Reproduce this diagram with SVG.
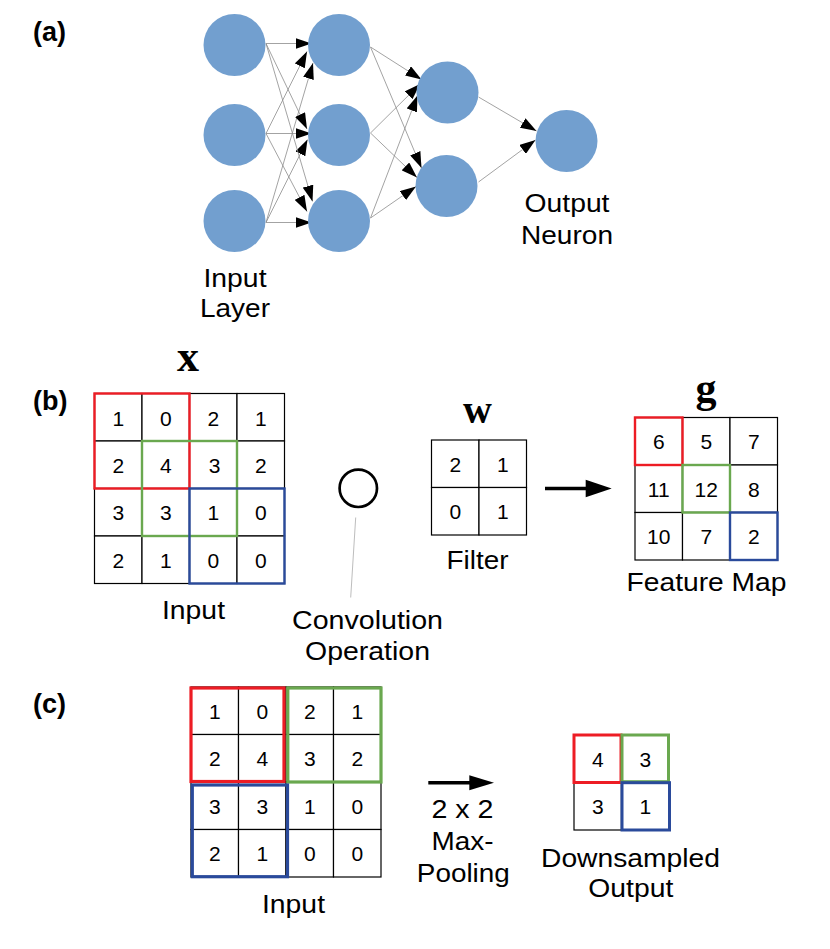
<svg xmlns="http://www.w3.org/2000/svg" width="830" height="949" viewBox="0 0 830 949">
<defs>
<style>
.lbl{font-family:"Liberation Sans",Arial,sans-serif;font-size:25.5px;fill:#000;text-anchor:middle}
.tag{font-family:"Liberation Sans",Arial,sans-serif;font-size:27px;font-weight:bold;fill:#000}
.num{font-family:"Liberation Sans",Arial,sans-serif;font-size:21px;fill:#000;text-anchor:middle}
.var{font-family:"Liberation Serif","Times New Roman",serif;font-weight:bold;fill:#000;text-anchor:middle}
.neuron{fill:#729fcf}
.edge{stroke:#8c8c8c;stroke-width:0.8;fill:none;marker-end:url(#ah)}
.cell{fill:#fff;stroke:#000;stroke-width:1.2}
.red{fill:none;stroke:#ed1c24}
.green{fill:none;stroke:#6aa84f}
.blue{fill:none;stroke:#2a4a9b}
.thick{stroke:#000;stroke-width:3.6;fill:none}
</style>
<marker id="ah" markerUnits="userSpaceOnUse" markerWidth="16" markerHeight="11" refX="16" refY="5.5" orient="auto"><path d="M0,0 L16,5.5 L0,11 z" fill="#000"/></marker>
</defs>
<rect x="0" y="0" width="830" height="949" fill="#fff"/>

<!-- Part (a) -->
<text class="tag" x="33" y="41">(a)</text>
<g id="connectors-a">
<line class="edge" x1="266" y1="43.5" x2="311.5" y2="43.5"/>
<line class="edge" x1="266" y1="133.5" x2="307" y2="51.5"/>
<line class="edge" x1="266" y1="222.5" x2="313" y2="63"/>
<line class="edge" x1="266" y1="43.5" x2="307" y2="129"/>
<line class="edge" x1="266" y1="133.5" x2="311.5" y2="133.5"/>
<line class="edge" x1="266" y1="222.5" x2="307.5" y2="139.5"/>
<line class="edge" x1="266" y1="43.5" x2="312.5" y2="201.5"/>
<line class="edge" x1="266" y1="133.5" x2="307" y2="211.5"/>
<line class="edge" x1="266" y1="222.5" x2="311.5" y2="222.5"/>
<line class="edge" x1="370.5" y1="47" x2="421.5" y2="79.5"/>
<line class="edge" x1="370.5" y1="133" x2="420" y2="84"/>
<line class="edge" x1="370.5" y1="218" x2="417.5" y2="95.5"/>
<line class="edge" x1="370.5" y1="47" x2="421.5" y2="168"/>
<line class="edge" x1="370.5" y1="133" x2="417" y2="177.5"/>
<line class="edge" x1="370.5" y1="218" x2="416" y2="186.5"/>
<line class="edge" x1="478.5" y1="97" x2="536.5" y2="131"/>
<line class="edge" x1="478.5" y1="182" x2="535.5" y2="140"/>
</g>
<g id="input-1"><circle class="neuron" cx="234.5" cy="45" r="31"/></g>
<g id="input-2"><circle class="neuron" cx="234.5" cy="135" r="31"/></g>
<g id="input-3"><circle class="neuron" cx="234.5" cy="221" r="31"/></g>
<g id="hidden1-1"><circle class="neuron" cx="339" cy="45" r="31"/></g>
<g id="hidden1-2"><circle class="neuron" cx="339" cy="135" r="31"/></g>
<g id="hidden1-3"><circle class="neuron" cx="339" cy="221" r="31"/></g>
<g id="hidden2-1"><circle class="neuron" cx="447.5" cy="92.5" r="31"/></g>
<g id="hidden2-2"><circle class="neuron" cx="446.5" cy="186" r="31"/></g>
<g id="output-neuron"><circle class="neuron" cx="566.5" cy="141" r="31"/></g>
<g id="label-input-layer">
<text class="lbl" x="235" y="286.5" textLength="63" lengthAdjust="spacingAndGlyphs">Input</text>
<text class="lbl" x="235" y="316.5" textLength="70" lengthAdjust="spacingAndGlyphs">Layer</text>
</g>
<g id="label-output-neuron">
<text class="lbl" x="567" y="212" textLength="85" lengthAdjust="spacingAndGlyphs">Output</text>
<text class="lbl" x="567" y="243.5" textLength="92" lengthAdjust="spacingAndGlyphs">Neuron</text>
</g>

<!-- Part (b) -->
<text class="tag" x="33" y="410">(b)</text>
<g id="b-input">
<text class="var" x="188" y="370.5" font-size="44">x</text>
<rect class="cell" x="94.5" y="393.5" width="47.5" height="47.5"/>
<rect class="cell" x="142" y="393.5" width="47.5" height="47.5"/>
<rect class="cell" x="189.5" y="393.5" width="47.5" height="47.5"/>
<rect class="cell" x="237" y="393.5" width="47.5" height="47.5"/>
<rect class="cell" x="94.5" y="441" width="47.5" height="47.5"/>
<rect class="cell" x="142" y="441" width="47.5" height="47.5"/>
<rect class="cell" x="189.5" y="441" width="47.5" height="47.5"/>
<rect class="cell" x="237" y="441" width="47.5" height="47.5"/>
<rect class="cell" x="94.5" y="488.5" width="47.5" height="47.5"/>
<rect class="cell" x="142" y="488.5" width="47.5" height="47.5"/>
<rect class="cell" x="189.5" y="488.5" width="47.5" height="47.5"/>
<rect class="cell" x="237" y="488.5" width="47.5" height="47.5"/>
<rect class="cell" x="94.5" y="536" width="47.5" height="47.5"/>
<rect class="cell" x="142" y="536" width="47.5" height="47.5"/>
<rect class="cell" x="189.5" y="536" width="47.5" height="47.5"/>
<rect class="cell" x="237" y="536" width="47.5" height="47.5"/>
<text class="num" x="118.25" y="425.5">1</text>
<text class="num" x="165.75" y="425.5">0</text>
<text class="num" x="213.25" y="425.5">2</text>
<text class="num" x="260.75" y="425.5">1</text>
<text class="num" x="118.25" y="473">2</text>
<text class="num" x="165.75" y="473">4</text>
<text class="num" x="214.5" y="473">3</text>
<text class="num" x="260.75" y="473">2</text>
<text class="num" x="118.25" y="520">3</text>
<text class="num" x="165.75" y="520">3</text>
<text class="num" x="213.25" y="520">1</text>
<text class="num" x="260.75" y="520">0</text>
<text class="num" x="118.25" y="567.5">2</text>
<text class="num" x="165.75" y="567.5">1</text>
<text class="num" x="213.25" y="567.5">0</text>
<text class="num" x="260.75" y="567.5">0</text>
<rect class="red" stroke-width="2.4" x="94.5" y="393.5" width="95" height="95"/>
<rect class="green" stroke-width="2.4" x="142" y="441" width="95" height="95"/>
<rect class="blue" stroke-width="2.4" x="189.5" y="488.5" width="95" height="95"/>
<text class="lbl" x="193.5" y="618.5" textLength="63" lengthAdjust="spacingAndGlyphs">Input</text>
</g>
<g id="b-convolution-op">
<line x1="355.7" y1="517.5" x2="350.7" y2="597.5" stroke="#bdbdbd" stroke-width="1"/>
<circle cx="358.3" cy="488.3" r="18.7" fill="none" stroke="#000" stroke-width="2.7"/>
<text class="lbl" x="367.5" y="629" textLength="151" lengthAdjust="spacingAndGlyphs">Convolution</text>
<text class="lbl" x="367.5" y="660" textLength="125" lengthAdjust="spacingAndGlyphs">Operation</text>
</g>
<g id="b-filter">
<text class="var" x="477.5" y="423" font-size="40">w</text>
<rect class="cell" x="431.5" y="440" width="47.5" height="47.5"/>
<rect class="cell" x="479" y="440" width="47.5" height="47.5"/>
<rect class="cell" x="431.5" y="487.5" width="47.5" height="47.5"/>
<rect class="cell" x="479" y="487.5" width="47.5" height="47.5"/>
<text class="num" x="455.25" y="471.75">2</text>
<text class="num" x="502.75" y="471.75">1</text>
<text class="num" x="455.25" y="519.25">0</text>
<text class="num" x="502.75" y="519.25">1</text>
<text class="lbl" x="477.5" y="568.5" textLength="62" lengthAdjust="spacingAndGlyphs">Filter</text>
</g>
<g id="b-arrow">
<line class="thick" x1="545" y1="488.5" x2="588" y2="488.5"/>
<path d="M585.7,479.8 L611.7,488.5 L585.7,497.2 z" fill="#000"/>
</g>
<g id="b-feature-map">
<text class="var" x="706" y="402" font-size="42">g</text>
<rect class="cell" x="635" y="417.5" width="47.5" height="47.5"/>
<rect class="cell" x="682.5" y="417.5" width="47.5" height="47.5"/>
<rect class="cell" x="730" y="417.5" width="47.5" height="47.5"/>
<rect class="cell" x="635" y="465" width="47.5" height="47.5"/>
<rect class="cell" x="682.5" y="465" width="47.5" height="47.5"/>
<rect class="cell" x="730" y="465" width="47.5" height="47.5"/>
<rect class="cell" x="635" y="512.5" width="47.5" height="47.5"/>
<rect class="cell" x="682.5" y="512.5" width="47.5" height="47.5"/>
<rect class="cell" x="730" y="512.5" width="47.5" height="47.5"/>
<text class="num" x="658.75" y="449.25">6</text>
<text class="num" x="706.25" y="449.25">5</text>
<text class="num" x="753.75" y="449.25">7</text>
<text class="num" x="658.75" y="496.75">11</text>
<text class="num" x="706.25" y="496.75">12</text>
<text class="num" x="753.75" y="496.75">8</text>
<text class="num" x="658.75" y="544.25">10</text>
<text class="num" x="706.25" y="544.25">7</text>
<text class="num" x="753.75" y="544.25">2</text>
<rect class="red" stroke-width="2.4" x="635" y="417.5" width="47.5" height="47.5"/>
<rect class="green" stroke-width="2.4" x="682.5" y="465" width="47.5" height="47.5"/>
<rect class="blue" stroke-width="2.4" x="730" y="512.5" width="47.5" height="47.5"/>
<text class="lbl" x="706.5" y="591" textLength="160" lengthAdjust="spacingAndGlyphs">Feature Map</text>
</g>

<!-- Part (c) -->
<text class="tag" x="33" y="712.5">(c)</text>
<g id="c-input">
<rect class="cell" x="191" y="687" width="47.5" height="47.5"/>
<rect class="cell" x="238.5" y="687" width="47.5" height="47.5"/>
<rect class="cell" x="286" y="687" width="47.5" height="47.5"/>
<rect class="cell" x="333.5" y="687" width="47.5" height="47.5"/>
<rect class="cell" x="191" y="734.5" width="47.5" height="47.5"/>
<rect class="cell" x="238.5" y="734.5" width="47.5" height="47.5"/>
<rect class="cell" x="286" y="734.5" width="47.5" height="47.5"/>
<rect class="cell" x="333.5" y="734.5" width="47.5" height="47.5"/>
<rect class="cell" x="191" y="782" width="47.5" height="47.5"/>
<rect class="cell" x="238.5" y="782" width="47.5" height="47.5"/>
<rect class="cell" x="286" y="782" width="47.5" height="47.5"/>
<rect class="cell" x="333.5" y="782" width="47.5" height="47.5"/>
<rect class="cell" x="191" y="829.5" width="47.5" height="47.5"/>
<rect class="cell" x="238.5" y="829.5" width="47.5" height="47.5"/>
<rect class="cell" x="286" y="829.5" width="47.5" height="47.5"/>
<rect class="cell" x="333.5" y="829.5" width="47.5" height="47.5"/>
<text class="num" x="214.75" y="718.75">1</text>
<text class="num" x="262.25" y="718.75">0</text>
<text class="num" x="309.75" y="718.75">2</text>
<text class="num" x="357.25" y="718.75">1</text>
<text class="num" x="214.75" y="766.25">2</text>
<text class="num" x="262.25" y="766.25">4</text>
<text class="num" x="309.75" y="766.25">3</text>
<text class="num" x="357.25" y="766.25">2</text>
<text class="num" x="214.75" y="813.75">3</text>
<text class="num" x="262.25" y="813.75">3</text>
<text class="num" x="309.75" y="813.75">1</text>
<text class="num" x="357.25" y="813.75">0</text>
<text class="num" x="214.75" y="861.25">2</text>
<text class="num" x="262.25" y="861.25">1</text>
<text class="num" x="309.75" y="861.25">0</text>
<text class="num" x="357.25" y="861.25">0</text>
<rect class="red" stroke-width="3.2" x="191" y="688" width="93" height="93.5"/>
<rect class="green" stroke-width="3.2" x="287.8" y="688" width="93.2" height="94"/>
<rect class="blue" stroke-width="3.2" x="192.3" y="785" width="95.2" height="91.7"/>
<text class="lbl" x="293.5" y="912.5" textLength="63" lengthAdjust="spacingAndGlyphs">Input</text>
</g>
<g id="c-arrow">
<line class="thick" x1="428.3" y1="782.7" x2="472" y2="782.7"/>
<path d="M469.3,775.2 L494,782.7 L469.3,790.2 z" fill="#000"/>
<text class="lbl" x="462.5" y="818" textLength="62" lengthAdjust="spacingAndGlyphs">2 x 2</text>
<text class="lbl" x="462.5" y="850" textLength="62" lengthAdjust="spacingAndGlyphs">Max-</text>
<text class="lbl" x="463.3" y="881.5" textLength="93" lengthAdjust="spacingAndGlyphs">Pooling</text>
</g>
<g id="c-output">
<rect class="cell" x="574" y="735" width="47.5" height="47.5"/>
<rect class="cell" x="621.5" y="735" width="47.5" height="47.5"/>
<rect class="cell" x="574" y="782.5" width="47.5" height="47.5"/>
<rect class="cell" x="621.5" y="782.5" width="47.5" height="47.5"/>
<text class="num" x="597.75" y="766.5">4</text>
<text class="num" x="645.25" y="766.5">3</text>
<text class="num" x="597.75" y="814">3</text>
<text class="num" x="645.25" y="814">1</text>
<rect class="red" stroke-width="3" x="574" y="735" width="47" height="47.5"/>
<rect class="green" stroke-width="3" x="622" y="735" width="46.5" height="46.7"/>
<rect class="blue" stroke-width="3" x="622" y="782.7" width="47.5" height="47.3"/>
<text class="lbl" x="630.5" y="866.5" textLength="179" lengthAdjust="spacingAndGlyphs">Downsampled</text>
<text class="lbl" x="630.8" y="896.5" textLength="85" lengthAdjust="spacingAndGlyphs">Output</text>
</g>
</svg>
